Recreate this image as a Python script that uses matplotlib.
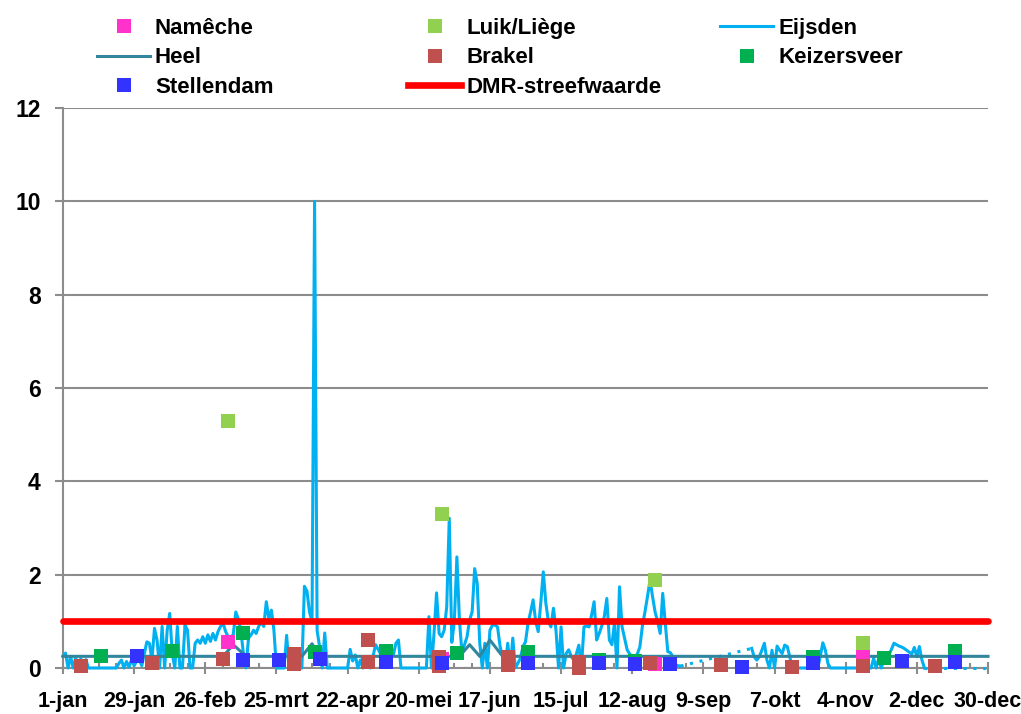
import matplotlib
matplotlib.use("Agg")
import matplotlib.pyplot as plt
from matplotlib.lines import Line2D
from matplotlib.ticker import MultipleLocator, FixedLocator
import numpy as np

plt.rcParams['font.family'] = ['Liberation Sans', 'DejaVu Sans']
plt.rcParams['font.weight'] = 'bold'
fs = 16

# ---- axis labels -------------------------------------------------------
tick_days = [0, 28, 56, 84, 112, 140, 168, 196, 224, 252, 280, 308, 336, 364]
tick_labels = ['1-jan', '29-jan', '26-feb', '25-mrt', '22-apr', '20-mei', '17-jun',
               '15-jul', '12-aug', '9-sep', '7-okt', '4-nov', '2-dec', '30-dec']

# ---- sampled stations (day of year, value) -----------------------------
nameche_days = [65, 149, 233, 315]
nameche_vals = [0.55, 0.20, 0.09, 0.28]

luik_days = [65, 149, 233, 315]
luik_vals = [5.29, 3.30, 1.88, 0.54]

brakel_days = [7, 35, 63, 91, 91, 120, 120, 148, 148, 175, 175, 203, 203, 231, 259, 287, 315, 343]
brakel_vals = [0.04, 0.11, 0.19, 0.31, 0.09, 0.60, 0.13, 0.24, 0.05, 0.24, 0.06, 0.13, 0.00,
               0.11, 0.07, 0.02, 0.04, 0.05]

keizersveer_days = [15, 43, 71, 99, 127, 155, 183, 211, 225, 295, 323, 351]
keizersveer_vals = [0.26, 0.37, 0.75, 0.34, 0.36, 0.32, 0.34, 0.18, 0.15, 0.24, 0.21, 0.36]

stellendam_days = [29, 71, 85, 101, 127, 149, 183, 211, 225, 239, 267, 295, 330, 351]
stellendam_vals = [0.26, 0.17, 0.17, 0.19, 0.13, 0.11, 0.11, 0.11, 0.08, 0.08, 0.03, 0.11, 0.15, 0.13]

# ---- Heel ---------------------------------------------------------------
heel_days = [0, 63, 67, 72, 94, 98, 101, 156, 160, 164, 168, 173, 364]
heel_vals = [0.25, 0.25, 0.50, 0.25, 0.25, 0.52, 0.25, 0.25, 0.50, 0.25, 0.60, 0.25, 0.25]

# ---- Eijsden (daily) ----------------------------------------------------
eijsden_days = [
    0, 1, 2, 3, 4, 5, 6, 7, 8, 9, 10, 21, 22, 23, 24, 25, 26, 27, 28, 29,
    30, 31, 32, 33, 34, 35, 36, 37, 38, 39, 40, 41, 42, 43, 44, 45, 46, 47, 48, 49,
    50, 51, 52, 53, 54, 55, 56, 57, 58, 59, 60, 61, 62, 63, 64, 65, 66, 67, 68, 69,
    70, 71, 72, 73, 74, 75, 76, 77, 78, 79, 80, 81, 82, 83, 84, 87, 88, 89, 94, 95,
    96, 97, 98, 99, 100, 101, 102, 103, 104, 112, 113, 114, 115, 116, 117, 118, 120, 121, 122, 123,
    124, 125, 126, 127, 128, 129, 130, 131, 132, 133, 143, 144, 145, 146, 147, 148, 149, 150, 151, 152,
    153, 154, 155, 156, 157, 158, 159, 160, 161, 162, 163, 164, 165, 166, 167, 168, 169, 170, 171, 172,
    173, 174, 175, 176, 177, 178, 179, 180, 181, 182, 183, 184, 185, 186, 187, 188, 189, 190, 191, 192,
    193, 194, 195, 196, 197, 198, 199, 200, 201, 202, 203, 204, 205, 206, 207, 208, 209, 210, 211, 212,
    213, 214, 215, 216, 217, 218, 219, 220, 221, 222, 223, 224, 225, 226, 227, 228, 229, 230, 231, 232,
    233, 234, 235, 236, 237, 238, 239, 240, 241, 242, 243,
    271, 272, 273, 274, 275, 276, 277, 278, 279, 280, 281, 282, 283, 284, 285, 286, 287, 297, 298, 299,
    300, 301, 302, 318, 319, 320, 321, 322, 323, 324, 325, 326, 327, 328, 329, 330, 331, 332, 333, 334,
    335, 336, 337, 338, 339, 364]
eijsden_vals = [
    0.25, 0.32, 0.00, 0.25, 0.00, 0.22, 0.04, 0.20, 0.00, 0.18, 0.00, 0.00, 0.10, 0.17, 0.00, 0.14, 0.02, 0.18, 0.05, 0.15,
    0.17, 0.05, 0.30, 0.56, 0.53, 0.17, 0.85, 0.60, 0.00, 0.89, 0.00, 0.81, 1.17, 0.30, 0.00, 0.89, 0.00, 0.00, 0.92, 0.81,
    0.00, 0.00, 0.53, 0.60, 0.53, 0.67, 0.53, 0.71, 0.57, 0.74, 0.60, 0.78, 0.89, 0.96, 0.78, 0.67, 0.64, 0.72, 1.20, 1.05,
    0.80, 0.30, 0.00, 0.64, 0.71, 0.81, 0.74, 0.89, 0.99, 0.89, 1.42, 1.06, 1.24, 0.81, 0.00, 0.00, 0.70, 0.00, 0.00, 1.75,
    1.65, 1.20, 1.00, 10.00, 0.80, 0.45, 0.00, 0.75, 0.00, 0.00, 0.40, 0.15, 0.28, 0.00, 0.17, 0.00, 0.10, 0.00, 0.25, 0.50,
    0.40, 0.30, 0.35, 0.30, 0.28, 0.30, 0.28, 0.53, 0.60, 0.00, 0.00, 1.10, 0.00, 0.74, 1.61, 0.74, 0.67, 0.81, 1.31, 3.21,
    0.55, 1.00, 2.38, 1.03, 0.32, 0.50, 0.67, 1.03, 1.20, 2.13, 1.81, 0.53, 0.00, 0.53, 0.00, 0.81, 0.92, 0.92, 0.88, 0.46,
    0.24, 0.00, 0.53, 0.00, 0.64, 0.00, 0.10, 0.21, 0.46, 0.56, 0.96, 1.20, 1.46, 1.00, 0.78, 1.39, 2.06, 1.39, 1.00, 0.88,
    1.28, 0.81, 0.00, 0.88, 0.00, 0.31, 0.39, 0.25, 0.17, 0.30, 0.49, 0.00, 0.88, 0.90, 0.88, 1.13, 1.42, 0.60, 0.74, 0.90,
    1.10, 1.49, 0.60, 0.50, 0.96, 0.00, 1.74, 0.88, 0.63, 0.39, 0.30, 0.24, 0.24, 0.30, 0.45, 0.90, 1.20, 1.53, 1.88, 1.53,
    1.20, 1.00, 0.74, 1.60, 0.96, 0.35, 0.33, 0.24, 0.07, 0.05, 0.04,
    0.42, 0.24, 0.17, 0.24, 0.38, 0.53, 0.17, 0.00, 0.38, 0.00, 0.47, 0.38, 0.31, 0.49, 0.46, 0.24, 0.00, 0.00, 0.25, 0.54,
    0.38, 0.10, 0.00, 0.00, 0.21, 0.00, 0.21, 0.00, 0.17, 0.24, 0.28, 0.40, 0.53, 0.50, 0.47, 0.45, 0.42, 0.38, 0.34, 0.30,
    0.44, 0.24, 0.46, 0.17, 0.00, 0.00]

dmr_target = 1.0

# ---- colours ------------------------------------------------------------
c_nameche = '#FF33CC'
c_luik = '#92D050'
c_eijsden = '#00B0F0'
c_heel = '#31859C'
c_brakel = '#C0504D'
c_keizer = '#00B050'
c_stellen = '#3333FF'
c_dmr = '#FF0000'
c_grid = '#8C8C8C'

fig = plt.figure(figsize=(10.21, 7.14), dpi=100)
ax = fig.add_axes([63 / 1021, 1 - 668 / 714, (988 - 63) / 1021, (668 - 108) / 714])

# Eijsden: solid where measured daily, dotted across the long data gap
ed = np.array(eijsden_days, dtype=float)
ev = np.array(eijsden_vals, dtype=float)
gap = np.where(np.diff(ed) > 20)[0]
start = 0
for g in list(gap) + [len(ed) - 1]:
    ax.plot(ed[start:g + 1], ev[start:g + 1], color=c_eijsden, lw=2.2,
            zorder=3, clip_on=False, solid_joinstyle='round')
    start = g + 1
for g in gap:
    ax.plot(ed[g:g + 2], ev[g:g + 2], color=c_eijsden, lw=2.2, ls=(0, (1, 2.2)),
            zorder=3, clip_on=False)

ax.plot(heel_days, heel_vals, color=c_heel, lw=2.2, zorder=4, clip_on=False)
ax.plot([tick_days[0], tick_days[-1]], [dmr_target, dmr_target], color=c_dmr, lw=4.8,
        solid_capstyle='round', zorder=5, clip_on=False)

ms = 10
ax.plot(nameche_days, nameche_vals, 's', color=c_nameche, ms=ms, mew=0, zorder=6, clip_on=False)
ax.plot(luik_days, luik_vals, 's', color=c_luik, ms=ms, mew=0, zorder=7, clip_on=False)
ax.plot(brakel_days, brakel_vals, 's', color=c_brakel, ms=ms, mew=0, zorder=8, clip_on=False)
ax.plot(keizersveer_days, keizersveer_vals, 's', color=c_keizer, ms=ms, mew=0, zorder=9, clip_on=False)
ax.plot(stellendam_days, stellendam_vals, 's', color=c_stellen, ms=ms, mew=0, zorder=10, clip_on=False)

# ---- axes styling -------------------------------------------------------
ax.set_xlim(tick_days[0], tick_days[-1])
ax.set_ylim(0, 12)
ax.set_axisbelow(True)
ax.yaxis.set_major_locator(MultipleLocator(2))
ax.xaxis.set_major_locator(FixedLocator(tick_days))
ax.xaxis.set_minor_locator(MultipleLocator(7))
ax.set_xticklabels(tick_labels)
ax.grid(axis='y', color=c_grid, lw=1.5)
for s in ['top', 'right']:
    ax.spines[s].set_visible(False)
for s in ['left', 'bottom']:
    ax.spines[s].set_color(c_grid)
    ax.spines[s].set_linewidth(1.5)
    ax.spines[s].set_zorder(1)
ax.tick_params(axis='y', direction='out', length=6, width=1.5, color=c_grid,
               pad=10, labelsize=16.5)
ax.tick_params(axis='x', which='major', direction='inout', length=8.6, width=1.5,
               color=c_grid, pad=12, labelsize=15.5)
ax.tick_params(axis='x', which='minor', direction='in', length=3.6, width=1.5, color=c_grid)
for lab in ax.get_xticklabels() + ax.get_yticklabels():
    lab.set_fontweight('bold')

# ---- legend: three columns laid out like the chart's header --------------
def mk(color):
    return Line2D([], [], ls='none', marker='s', ms=ms, mew=0, color=color)

h_nameche = mk(c_nameche)
h_luik = mk(c_luik)
h_brakel = mk(c_brakel)
h_keizer = mk(c_keizer)
h_stellen = mk(c_stellen)
h_eijsden = Line2D([], [], color=c_eijsden, lw=2.2)
h_heel = Line2D([], [], color=c_heel, lw=2.2)
h_dmr = Line2D([], [], color=c_dmr, lw=4.8)

columns = [
    ([h_nameche, h_heel, h_stellen], ['Namêche', 'Heel', 'Stellendam'], 97 / 1021),
    ([h_luik, h_brakel, h_dmr], ['Luik/Liège', 'Brakel', 'DMR-streefwaarde'], 408 / 1021),
    ([h_eijsden, h_keizer], ['Eijsden', 'Keizersveer'], 720 / 1021),
]
fs_px = fs * 100 / 72
for handles, labels, x0 in columns:
    fig.legend(handles, labels, loc='upper left', bbox_to_anchor=(x0, 1 - 18 / 714),
               frameon=False, borderpad=0, borderaxespad=0, handlelength=53 / fs_px,
               handletextpad=5 / fs_px, labelspacing=0.38, numpoints=1,
               prop={'weight': 'bold', 'size': fs})

fig.savefig('out.png', dpi=100)
